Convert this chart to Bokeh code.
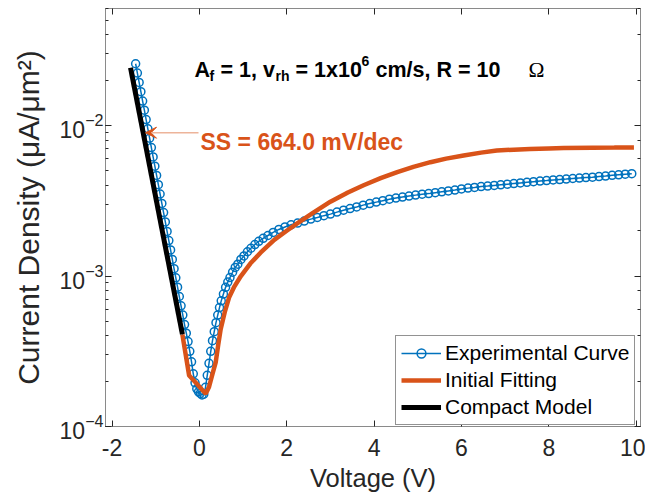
import math
from bokeh.plotting import figure
from bokeh.models import (LogAxis, LinearAxis, Range1d, Label, Arrow, VeeHead,
                          Legend, LegendItem, FixedTicker, LogTicker)
from bokeh.embed import file_html
from bokeh.resources import INLINE

# ---------------- data ----------------
exp_v = [-1.46, -1.42, -1.38, -1.34, -1.30, -1.26, -1.22, -1.18, -1.14, -1.10,
         -1.06, -1.02, -0.98, -0.94, -0.90, -0.86, -0.82, -0.78, -0.74, -0.70,
         -0.66, -0.62, -0.58, -0.54, -0.50, -0.46, -0.42, -0.38, -0.34, -0.30,
         -0.26, -0.22, -0.18, -0.14, -0.10, -0.06, -0.02, 0.02, 0.06, 0.10,
         0.14, 0.18, 0.22, 0.26, 0.30, 0.34, 0.38, 0.42, 0.46, 0.50,
         0.55, 0.60, 0.65, 0.70, 0.76, 0.82, 0.88, 0.95, 1.02, 1.10,
         1.18, 1.27, 1.36, 1.46, 1.57, 1.69, 1.82, 1.96, 2.10, 2.25,
         2.40, 2.55, 2.70, 2.85, 3.00, 3.15, 3.30, 3.45, 3.60, 3.75,
         3.90, 4.05, 4.20, 4.35, 4.50, 4.65, 4.80, 4.95, 5.10, 5.25,
         5.40, 5.55, 5.70, 5.85, 6.00, 6.15, 6.30, 6.45, 6.60, 6.75,
         6.90, 7.05, 7.20, 7.35, 7.50, 7.65, 7.80, 7.95, 8.10, 8.25,
         8.40, 8.55, 8.70, 8.85, 9.00, 9.15, 9.30, 9.45, 9.60, 9.75, 9.90]
exp_i = [0.02576, 0.02234, 0.01936, 0.01679, 0.01455, 0.01265, 0.01096, 0.00951, 0.00824, 0.00714,
         0.00619, 0.00537, 0.00466, 0.00405, 0.00351, 0.00304, 0.00264, 0.00229, 0.00198, 0.00172,
         0.00149, 0.00129, 0.00112, 0.000973, 0.000843, 0.000731, 0.000634, 0.000550, 0.000476, 0.000417,
         0.000367, 0.000316, 0.000269, 0.000224, 0.000195, 0.000178, 0.000170, 0.000166, 0.000162, 0.000164,
         0.000182, 0.000219, 0.000263, 0.000316, 0.000372, 0.000427, 0.000490, 0.000550, 0.000617, 0.000684,
         0.000759, 0.000841, 0.000912, 0.000977, 0.00106, 0.00114, 0.00120, 0.00129, 0.00136, 0.00145,
         0.00153, 0.00162, 0.00170, 0.00178, 0.00186, 0.00195, 0.00204, 0.00212, 0.00219, 0.00225,
         0.00232, 0.00239, 0.00245, 0.00252, 0.00258, 0.00266, 0.00274, 0.00281, 0.00288, 0.00296,
         0.00303, 0.00310, 0.00317, 0.00324, 0.00330, 0.00335, 0.00340, 0.00345, 0.00350, 0.00353,
         0.00358, 0.00363, 0.00368, 0.00373, 0.00379, 0.00384, 0.00388, 0.00393, 0.00396, 0.00400,
         0.00404, 0.00408, 0.00412, 0.00416, 0.00420, 0.00424, 0.00428, 0.00431, 0.00435, 0.00438,
         0.00441, 0.00445, 0.00448, 0.00451, 0.00454, 0.00458, 0.00462, 0.00467, 0.00471, 0.00475, 0.00479]

fit_v = [-0.39, -0.235, -0.05, 0.144, 0.22, 0.30, 0.373, 0.43, 0.487, 0.58,
         0.679, 0.80, 0.95, 1.166, 1.40, 1.714, 2.00, 2.24, 2.60, 3.00,
         3.40, 3.76, 4.15, 4.53, 4.90, 5.29, 5.65, 6.05, 6.45, 6.81,
         7.20, 7.57, 8.00, 8.34, 9.00, 9.50, 9.95]
fit_i = [0.000410, 0.000218, 0.000191, 0.000165, 0.000183, 0.000224, 0.000267, 0.000347, 0.000443, 0.000575,
         0.000719, 0.000851, 0.00100, 0.00121, 0.00143, 0.00174, 0.00200, 0.00224, 0.00263, 0.00312,
         0.00359, 0.00401, 0.00447, 0.00491, 0.00532, 0.00571, 0.00603, 0.00632, 0.00661, 0.00682,
         0.00692, 0.00698, 0.00705, 0.00710, 0.00713, 0.00714, 0.00716]

model_v = [-1.577, -0.389]
model_i = [0.0242, 0.00041]

x_ticks = [-2, 0, 2, 4, 6, 8, 10]
x_tick_labels = ["-2", "0", "2", "4", "6", "8", "10"]
x_lim = (-2.15, 10.1)
y_lim = (1e-4, 0.06)

BLUE = "#0072BD"
ORANGE = "#D95319"
AX = "#262626"
FONT = "Liberation Sans"

# ---------------- figure ----------------
OFF = 2  # observed page offset of the canvas
W, H = 645, 494
ML, MR, MT, MB = 105, 5, 8, 62
p = figure(width=W, height=H, y_axis_type="log",
           x_range=Range1d(*x_lim), y_range=Range1d(*y_lim),
           output_backend="svg", toolbar_location=None,
           min_border_left=ML, min_border_right=MR,
           min_border_top=MT, min_border_bottom=MB)
p.grid.visible = False
p.outline_line_color = "#8a8a8a"
p.outline_line_width = 1
p.background_fill_color = "white"
p.border_fill_color = "white"

FW = W - ML - MR
FH = H - MT - MB


def dx(px):  # page px -> data x
    return x_lim[0] + (px - OFF - ML) * (x_lim[1] - x_lim[0]) / FW


def dy(py):  # page px -> data y (log)
    l0, l1 = math.log10(y_lim[0]), math.log10(y_lim[1])
    return 10 ** (l0 + (OFF + MT + FH - py) * (l1 - l0) / FH)


for ax in (p.xaxis[0], p.yaxis[0]):
    ax.axis_line_color = "#8a8a8a"
    ax.major_tick_in = 6
    ax.major_tick_out = 0
    ax.major_tick_line_color = AX
    ax.minor_tick_in = 3
    ax.minor_tick_out = 0
    ax.minor_tick_line_color = AX
    ax.major_label_text_font = FONT
    ax.major_label_text_font_size = "23px"
    ax.major_label_text_color = AX
    ax.axis_label_text_font = FONT
    ax.axis_label_text_font_style = "normal"
    ax.axis_label_text_color = AX

p.xaxis.ticker = FixedTicker(ticks=x_ticks)
p.xaxis.major_label_overrides = {t: s for t, s in zip(x_ticks, x_tick_labels)}
p.xaxis.minor_tick_line_color = None
p.xaxis.axis_label = "Voltage (V)"
p.xaxis.axis_label_text_font_size = "25.5px"
p.xaxis.major_label_standoff = 12
p.xaxis.axis_label_standoff = 5
p.yaxis.axis_label = "Current Density (μA/μm²)"
p.yaxis.axis_label_text_font_size = "30px"
p.yaxis.major_label_standoff = 2
p.yaxis.axis_label_standoff = 12

top = LinearAxis(ticker=FixedTicker(ticks=x_ticks), major_label_text_font_size="1px",
                 major_label_text_alpha=0,
                 major_tick_in=6, major_tick_out=0, major_tick_line_color=AX,
                 minor_tick_line_color=None, axis_line_color=None, major_label_standoff=0)
p.add_layout(top, "above")
right = LogAxis(ticker=LogTicker(), major_label_text_font_size="1px",
                major_label_text_alpha=0,
                major_tick_in=6, major_tick_out=0, major_tick_line_color=AX,
                minor_tick_in=3, minor_tick_out=0, minor_tick_line_color=AX,
                axis_line_color=None, major_label_standoff=0)
p.add_layout(right, "right")

# ---------------- data renderers ----------------
r_line = p.line(exp_v, exp_i, line_color=BLUE, line_width=1.5)
r_pts = p.scatter(exp_v, exp_i, marker="circle", size=8, fill_color=None,
                  line_color=BLUE, line_width=1.5)
r_fit = p.line(fit_v, fit_i, line_color=ORANGE, line_width=4.5)
r_mod = p.line(model_v, model_i, line_color="black", line_width=5)

legend = Legend(items=[LegendItem(label="Experimental Curve", renderers=[r_line, r_pts]),
                       LegendItem(label="Initial Fitting", renderers=[r_fit]),
                       LegendItem(label="Compact Model", renderers=[r_mod])],
                location=(290, 1), border_line_color=AX, border_line_width=1,
                background_fill_color="white", background_fill_alpha=1,
                label_text_font=FONT, label_text_font_size="21px", label_text_color="black",
                glyph_width=40, glyph_height=22, label_height=22, label_standoff=4,
                padding=5, spacing=3, margin=0)
p.add_layout(legend)

# ---------------- annotations ----------------
title_parts = [
    ("A", 196, 72, "21.5px", "bold", FONT),
    ("f", 211, 78, "14px", "bold", FONT),
    ("= 1, v", 222, 72, "21.5px", "bold", FONT),
    ("rh", 277, 78, "14px", "bold", FONT),
    ("= 1x10", 297, 72, "21.5px", "bold", FONT),
    ("6", 363, 63, "14px", "bold", FONT),
    ("cm/s, R = 10", 377, 72, "21.5px", "bold", FONT),
    ("Ω", 530, 72, "21.5px", "normal", "Liberation Serif"),
]
for txt, px, py, size, style, font in title_parts:
    p.add_layout(Label(x=dx(px), y=dy(py), text=txt, text_font=font,
                       text_font_size=size, text_font_style=style,
                       text_color="black", text_align="left",
                       text_baseline="alphabetic"))

p.add_layout(Label(x=dx(202), y=dy(145), text="SS = 664.0 mV/dec", text_font=FONT,
                   text_font_size="23px", text_font_style="bold", text_color=ORANGE,
                   text_align="left", text_baseline="alphabetic"))
p.add_layout(Arrow(end=VeeHead(size=11, fill_color=ORANGE, line_color=ORANGE, line_width=1),
                   x_start=dx(200), y_start=dy(136), x_end=dx(147), y_end=dy(136),
                   line_color="#EDB49A", line_width=1.5))

open("out.html", "w").write(file_html(p, INLINE))
